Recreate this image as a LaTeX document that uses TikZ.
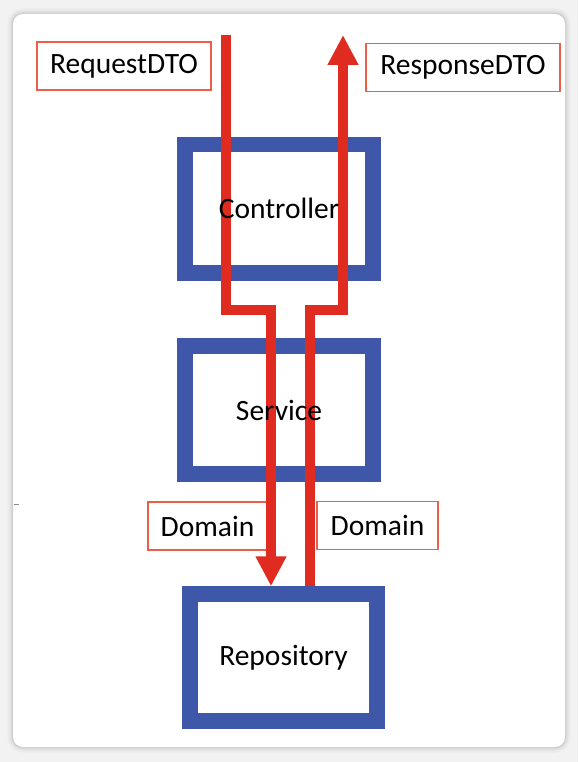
\documentclass[tikz,border=0pt]{standalone}
\usepackage{fontspec}
\setmainfont{Carlito}
\usepackage{xcolor}
\usetikzlibrary{arrows.meta,positioning}
\definecolor{layerblue}{HTML}{3F57A9}
\definecolor{flowred}{HTML}{E02B20}
\definecolor{labelred}{HTML}{EC5E4C}
\tikzset{
  layerbox/.style = {rectangle, draw=layerblue, line width=15.5pt, fill=white,
                     minimum width=188pt, minimum height=128pt, inner sep=0pt},
  layertext/.style = {font=\fontsize{29.5}{33}\selectfont},
  dtolabel/.style = {rectangle, draw=labelred, line width=1.1pt, fill=white,
                     inner sep=0pt, minimum height=48pt,
                     font=\fontsize{29.5}{33}\selectfont},
  flow/.style = {draw=flowred, line width=10pt, line join=miter},
  flowtip/.style = {-{Triangle[length=30pt,width=29pt]}},
}

\begin{document}
\begin{tikzpicture}[x=1pt,y=-1pt]

  \useasboundingbox (0,0) rectangle (578,762);

  % Screenshot card with soft shadow
  \fill[black!5] (0,0) rectangle (578,762);
  \foreach \w/\c in {16/5, 11/8, 7/11, 4/15, 2/20} {
    \draw[black!\c, line width=\w pt, rounded corners=10pt] (13,14) rectangle (565,747);
  }
  \fill[white, rounded corners=10pt] (13,14) rectangle (565,747);
  \draw[black!45, line width=1pt] (14,504) -- (19,504);

  % === Layers ===
  \node[layerbox] (ctrl) at (279,208.75) {};
  \node[layerbox] (svc)  at (279,410) {};
  \node[layerbox, minimum width=187pt, minimum height=127pt] (repo) at (283.5,657.5) {};

  % DTO labels
  \node[dtolabel, minimum width=174pt] (reqdto)  at (124,66)    {RequestDTO};
  \node[dtolabel, minimum width=194pt] (respdto) at (463,67.5)  {ResponseDTO};
  \node[dtolabel, minimum width=119pt] (domin)   at (207.5,526) {Domain};
  \node[dtolabel, minimum width=121pt] (domout)  at (377.5,525.5) {Domain};

  % Free ends and jogs of the flows
  \coordinate (reqin)   at (226,35);
  \coordinate (reqjog)  at (271,310);
  \coordinate (respout) at (343,35);
  \coordinate (respjog) at (310,310);

  % Request flow: down into the repository
  \draw[flow, flowtip] (reqin) |- (reqjog) -- (reqjog |- repo.north);

  % Response flow: up out of the controller
  \draw[flow, flowtip] (repo.north -| respjog) -- (respjog) -| (respout);

  % Layer names (on top of the flows)
  \node[layertext] (ctrltext) at (ctrl) {Controller};
  \node[layertext] (svctext)  at (svc)  {Service};
  \node[layertext] (repotext) at (repo) {Repository};

\end{tikzpicture}
\end{document}
